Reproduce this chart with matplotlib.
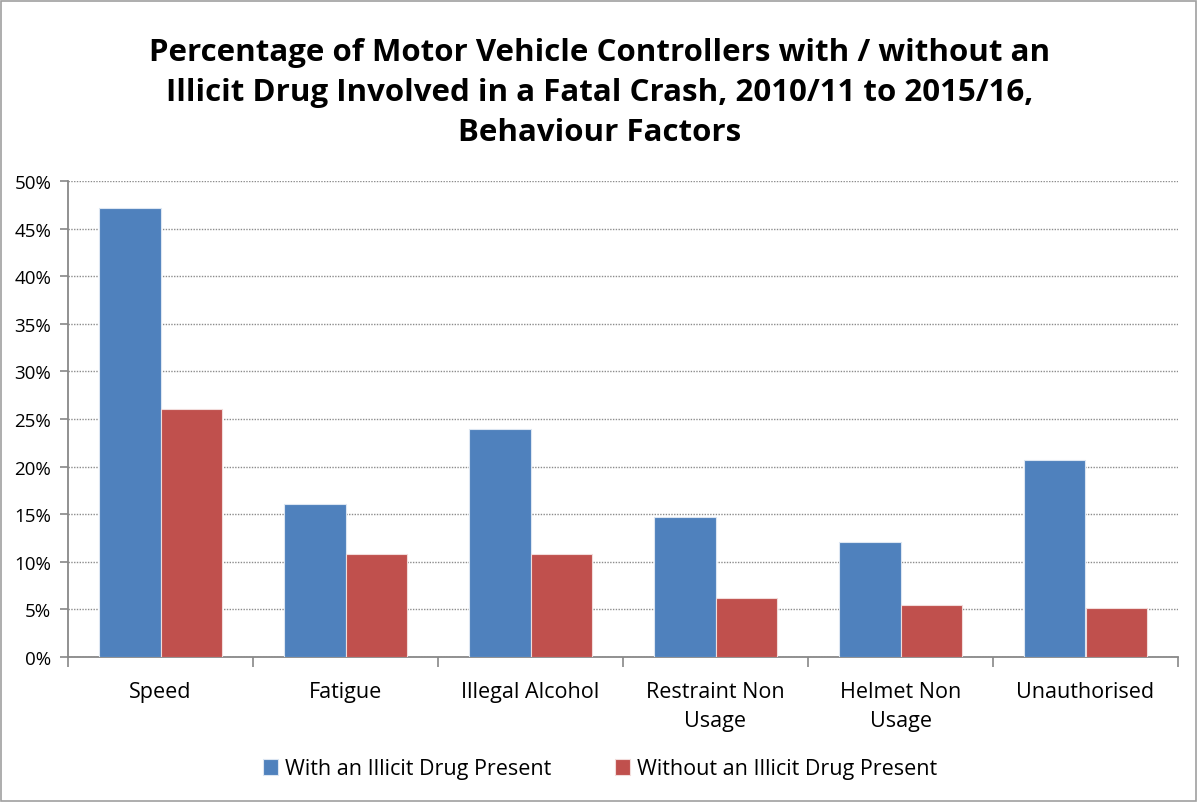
import matplotlib
matplotlib.use("Agg")
import matplotlib.pyplot as plt
from matplotlib.ticker import FixedLocator, FuncFormatter
import numpy as np

categories = ["Speed", "Fatigue", "Illegal Alcohol", "Restraint Non\nUsage", "Helmet Non\nUsage", "Unauthorised"]
with_drug = [47.2, 16.1, 23.9, 14.7, 12.1, 20.7]
without_drug = [26.0, 10.8, 10.8, 6.2, 5.5, 5.1]
series_names = ["With an Illicit Drug Present", "Without an Illicit Drug Present"]
title = "Percentage of Motor Vehicle Controllers with / without an\nIllicit Drug Involved in a Fatal Crash, 2010/11 to 2015/16,\nBehaviour Factors"

plt.rcParams['font.family'] = ['Open Sans', 'DejaVu Sans']

fig = plt.figure(figsize=(12, 8.03), dpi=100)
ax = fig.add_axes([68/1200, 1-658/803, (1178-68)/1200, (658-182)/803])

x = np.arange(len(categories))
w = 1/3
blue = "#4F81BD"
red = "#C0504D"
ax.bar(x - w/2, with_drug, w, color=blue, edgecolor="#dce6f2", linewidth=0.8, label=series_names[0], zorder=3)
ax.bar(x + w/2, without_drug, w, color=red, edgecolor="#f2dcdb", linewidth=0.8, label=series_names[1], zorder=3)

ax.set_xlim(-0.5, len(categories) - 0.5)
ax.set_ylim(0, 50)
ax.set_yticks(np.arange(0, 51, 5))
ax.yaxis.set_major_formatter(FuncFormatter(lambda v, p: f"{int(v)}%"))
ax.yaxis.grid(True, linestyle=(0, (1, 1)), color="#8c8c8c", linewidth=1.0, zorder=0)
ax.set_axisbelow(True)

ax.xaxis.set_major_locator(FixedLocator(np.arange(-0.5, len(categories), 1.0)))
ax.xaxis.set_major_formatter(FuncFormatter(lambda v, p: ""))
ax.xaxis.set_minor_locator(FixedLocator(x))
ax.set_xticklabels(categories, minor=True)
for lab in ax.get_xticklabels(minor=True):
    lab.set_linespacing(1.55)
ax.tick_params(axis="x", which="major", length=7, color="#888888", width=1.2, direction="out")
ax.tick_params(axis="x", which="minor", length=0, pad=17, labelsize=15.5, labelcolor="#000000")
ax.tick_params(axis="y", length=6, color="#888888", width=1.2, labelsize=13.5, pad=6)

for s in ["top", "right"]:
    ax.spines[s].set_visible(False)
for s in ["left", "bottom"]:
    ax.spines[s].set_color("#888888")
    ax.spines[s].set_linewidth(1.3)

fig.text(0.5, 1-93/803, title, ha="center", va="center", fontsize=22.5, fontweight="bold", linespacing=1.45)

leg = fig.legend(loc="center", bbox_to_anchor=(0.5, 1-770/803), ncol=2, frameon=False,
                 fontsize=15.5, handlelength=0.7, handleheight=0.7, handletextpad=0.3, columnspacing=3.0)

# outer border
fig.patches.append(plt.Rectangle((0.001, 0.001), 0.996, 0.997, transform=fig.transFigure,
                                 fill=False, edgecolor="#a0a0a0", linewidth=1.2))

fig.savefig("out.png", dpi=100)
